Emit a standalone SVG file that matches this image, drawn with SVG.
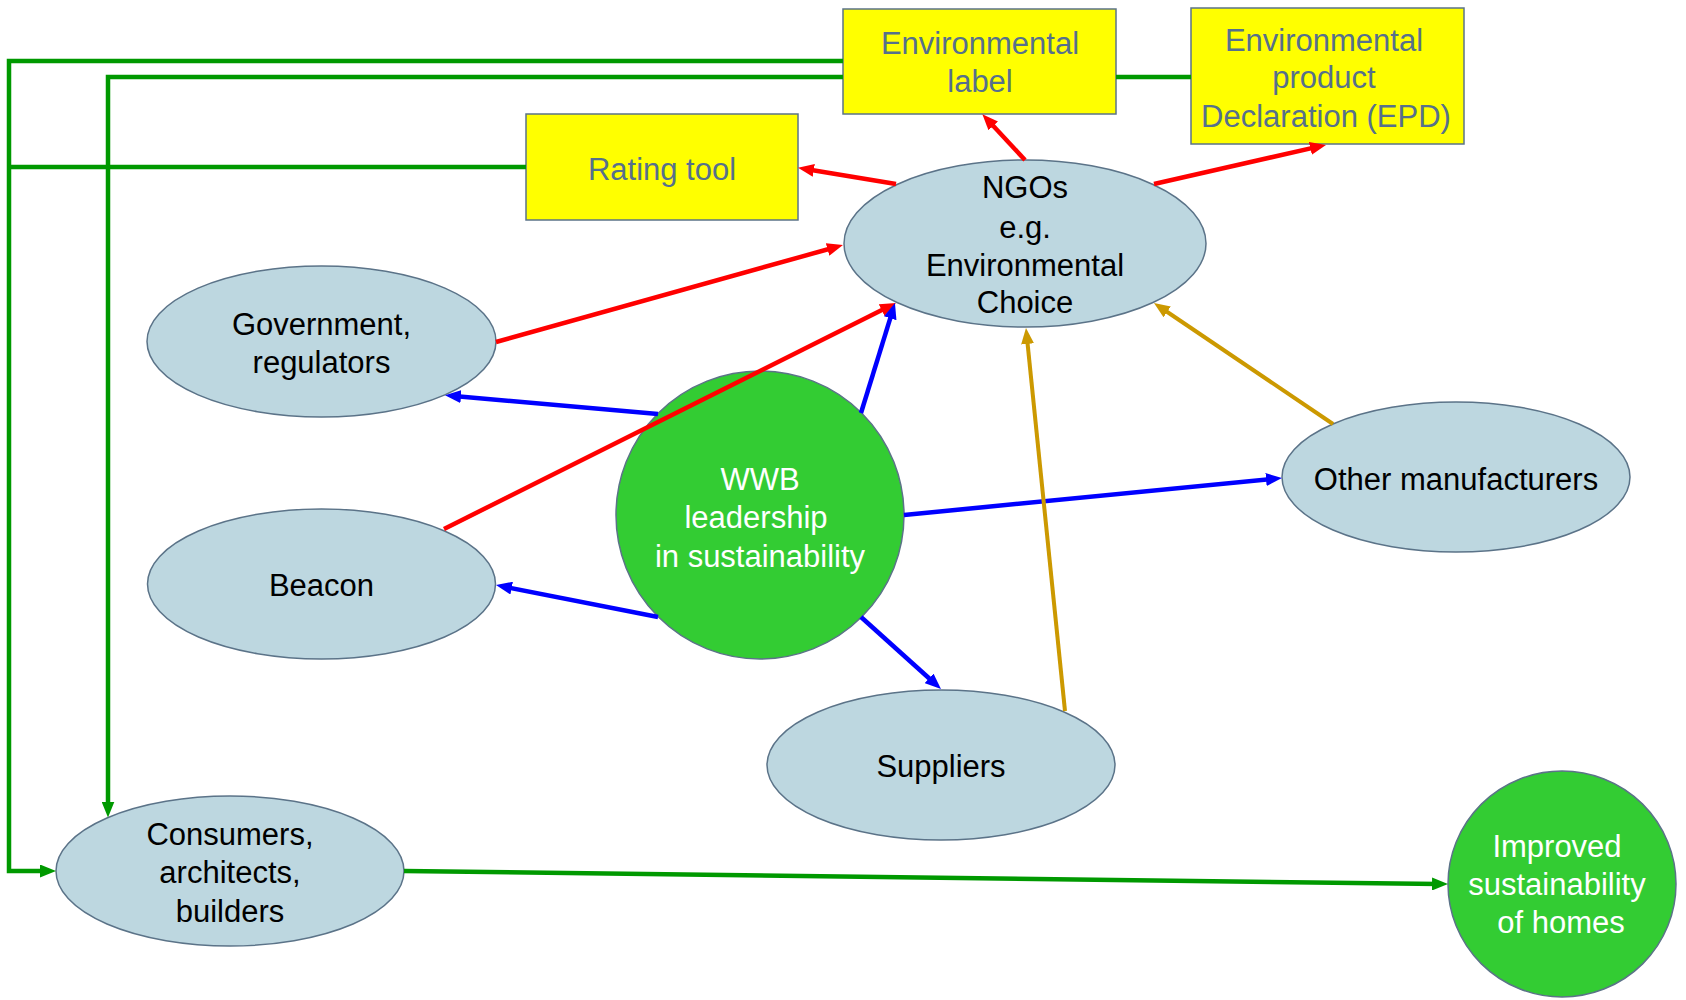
<svg xmlns="http://www.w3.org/2000/svg" width="1686" height="1000" viewBox="0 0 1686 1000">
<style>
.box{fill:#FFFF00;stroke:#5B7388;stroke-width:1.5}
.ell{fill:#BDD7E0;stroke:#5B7388;stroke-width:1.5}
.grn{fill:#33CC33;stroke:#5B7388;stroke-width:1.5}
text{font-family:"Liberation Sans",Arial,sans-serif;font-size:31px;text-anchor:middle}
.tb{fill:#56708C}
.tk{fill:#000000}
.tw{fill:#FFFFFF}
.c{fill:none;stroke-linecap:butt;stroke-linejoin:miter}
.r{stroke:#FF0000;stroke-width:4.5}
.b{stroke:#0000FF;stroke-width:4.5}
.g{stroke:#009900;stroke-width:4.5}
.o{stroke:#CC9900;stroke-width:4}
</style>
<defs>
<marker id="ar" viewBox="0 0 16 13" refX="7" refY="6.5" markerWidth="16" markerHeight="13" markerUnits="userSpaceOnUse" orient="auto"><path d="M0,0 L16,6.5 L0,13 z" fill="#FF0000"/></marker>
<marker id="ab" viewBox="0 0 16 13" refX="7" refY="6.5" markerWidth="16" markerHeight="13" markerUnits="userSpaceOnUse" orient="auto"><path d="M0,0 L16,6.5 L0,13 z" fill="#0000FF"/></marker>
<marker id="ag" viewBox="0 0 16 13" refX="7" refY="6.5" markerWidth="16" markerHeight="13" markerUnits="userSpaceOnUse" orient="auto"><path d="M0,0 L16,6.5 L0,13 z" fill="#009900"/></marker>
<marker id="ao" viewBox="0 0 16 13" refX="7" refY="6.5" markerWidth="16" markerHeight="13" markerUnits="userSpaceOnUse" orient="auto"><path d="M0,0 L16,6.5 L0,13 z" fill="#CC9900"/></marker>
</defs>

<g id="env-label"><rect class="box" x="843" y="9" width="273" height="105"/><text class="tb" x="980" y="54">Environmental</text><text class="tb" x="980" y="92">label</text></g>
<g id="epd"><rect class="box" x="1191" y="8" width="273" height="136"/><text class="tb" x="1324" y="51">Environmental</text><text class="tb" x="1324" y="88">product</text><text class="tb" x="1326" y="127">Declaration (EPD)</text></g>
<g id="rating-tool"><rect class="box" x="526" y="114" width="272" height="106"/><text class="tb" x="662" y="180">Rating tool</text></g>
<g id="ngos"><ellipse class="ell" cx="1025" cy="243.5" rx="181" ry="83.5"/><text class="tk" x="1025" y="198">NGOs</text><text class="tk" x="1025" y="238">e.g.</text><text class="tk" x="1025" y="276">Environmental</text><text class="tk" x="1025" y="313">Choice</text></g>
<g id="government"><ellipse class="ell" cx="321.5" cy="341.5" rx="174.5" ry="75.5"/><text class="tk" x="321.5" y="335">Government,</text><text class="tk" x="321.5" y="373">regulators</text></g>
<g id="beacon"><ellipse class="ell" cx="321.5" cy="584" rx="174" ry="75"/><text class="tk" x="321.5" y="596">Beacon</text></g>
<g id="wwb"><ellipse class="grn" cx="760" cy="515" rx="144" ry="144"/><text class="tw" x="760" y="490">WWB</text><text class="tw" x="756" y="528">leadership</text><text class="tw" x="760" y="567">in sustainability</text></g>
<g id="other-manufacturers"><ellipse class="ell" cx="1456" cy="477" rx="174" ry="75"/><text class="tk" x="1456" y="490">Other manufacturers</text></g>
<g id="suppliers"><ellipse class="ell" cx="941" cy="765" rx="174" ry="75"/><text class="tk" x="941" y="777">Suppliers</text></g>
<g id="consumers"><ellipse class="ell" cx="230" cy="871" rx="174" ry="75"/><text class="tk" x="230" y="845">Consumers,</text><text class="tk" x="230" y="883">architects,</text><text class="tk" x="230" y="922">builders</text></g>
<g id="improved"><ellipse class="grn" cx="1562" cy="884" rx="114" ry="113"/><text class="tw" x="1557" y="857">Improved</text><text class="tw" x="1557" y="895">sustainability</text><text class="tw" x="1561" y="933">of homes</text></g>

<g id="connectors">
<path class="c g" d="M843,61 H9 V871 H47" marker-end="url(#ag)"/>
<path class="c g" d="M1191,77 H1116 M843,77 H108 V808.5" marker-end="url(#ag)"/>
<path class="c g" d="M526,167 H9"/>
<path class="c g" d="M404,871 L1439,884" marker-end="url(#ag)"/>
<path class="c r" d="M896,184 L806.9,169.3" marker-end="url(#ar)"/>
<path class="c r" d="M1025,160 L988.5,120.8" marker-end="url(#ar)"/>
<path class="c r" d="M1154,184 L1317.2,146.9" marker-end="url(#ar)"/>
<path class="c r" d="M496,342 L834.3,247.5" marker-end="url(#ar)"/>
<path class="c r" d="M444,529 L887.9,307" marker-end="url(#ar)"/>
<path class="c b" d="M658,414 L454,396" marker-end="url(#ab)"/>
<path class="c b" d="M861,413 L892.3,311.6" marker-end="url(#ab)"/>
<path class="c b" d="M904,515 L1273,478.9" marker-end="url(#ab)"/>
<path class="c b" d="M658,617 L504.8,586.8" marker-end="url(#ab)"/>
<path class="c b" d="M861,617 L934.3,683" marker-end="url(#ab)"/>
<path class="c o" d="M1065,711 L1026.9,337" marker-end="url(#ao)"/>
<path class="c o" d="M1333,424 L1161.4,308" marker-end="url(#ao)"/>
</g>
</svg>
